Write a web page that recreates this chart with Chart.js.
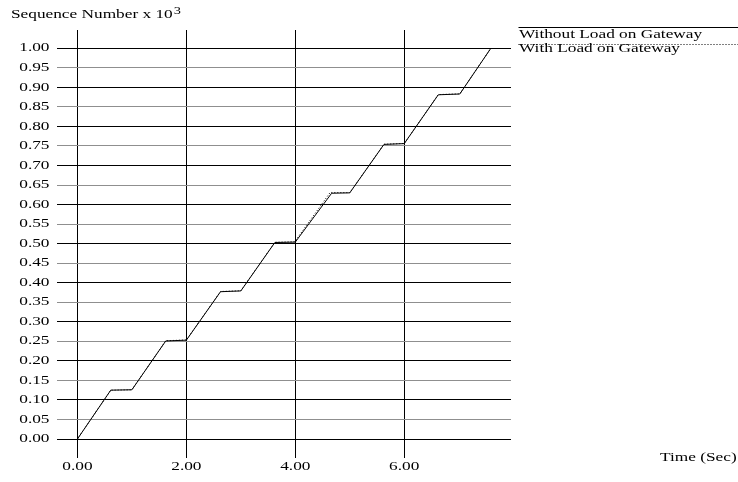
<!DOCTYPE html>
<html>
<head>
<meta charset="utf-8">
<script src="https://cdn.jsdelivr.net/npm/chart.js@4"></script>
<style>
  html, body { margin: 0; padding: 0; background: #fff; }
  #wrap { width: 738px; height: 482px; }
</style>
</head>
<body>
<div id="wrap"><canvas id="c" width="738" height="482"></canvas></div>
<script>
// Sequence number (x 10^3) against time, two runs
const timeNoLoad = [0, 0.612, 1.0, 1.622, 2.0, 2.627, 3.0, 3.625, 4.0, 4.667, 5.0, 5.628, 6.0, 6.625, 7.02, 7.59];
const seqNoLoad  = [0, 0.125, 0.126, 0.251, 0.253, 0.377, 0.379, 0.503, 0.504, 0.629, 0.630, 0.754, 0.756, 0.881, 0.883, 1.0];

const timeLoad = [0, 0.612, 1.0, 1.622, 2.0, 2.627, 3.0, 3.625, 3.99, 4.64, 5.0, 5.628, 6.0, 6.625, 7.02, 7.59];
const seqLoad  = [0, 0.125, 0.126, 0.2515, 0.2535, 0.3775, 0.3795, 0.5035, 0.505, 0.631, 0.6305, 0.7545, 0.7565, 0.8815, 0.8835, 1.0];

const seriesNames = ['Without Load on Gateway', 'With Load on Gateway'];

const xTicks = [0, 2, 4, 6];
const xTickLabels = ['0.00', '2.00', '4.00', '6.00'];
const yTicks = [0, 0.05, 0.10, 0.15, 0.20, 0.25, 0.30, 0.35, 0.40, 0.45, 0.50,
                0.55, 0.60, 0.65, 0.70, 0.75, 0.80, 0.85, 0.90, 0.95, 1.00];
const yTickLabels = ['0.00', '0.05', '0.10', '0.15', '0.20', '0.25', '0.30', '0.35', '0.40', '0.45', '0.50',
                     '0.55', '0.60', '0.65', '0.70', '0.75', '0.80', '0.85', '0.90', '0.95', '1.00'];

const yTitle = 'Sequence Number x 10';
const yTitleExp = '3';
const xTitle = 'Time (Sec)';

const FONT = '"Liberation Serif", "Times New Roman", serif';
const STRETCH = 1.44;

// Wide, horizontally stretched serif text
function stretchedText(ctx, text, x, y, align, baseline, size) {
  ctx.save();
  ctx.font = size + 'px ' + FONT;
  ctx.fillStyle = '#000';
  ctx.textAlign = 'left';
  ctx.textBaseline = baseline;
  const w = ctx.measureText(text).width * STRETCH;
  const x0 = align === 'right' ? x - w : (align === 'center' ? x - w / 2 : x);
  ctx.translate(x0, y);
  ctx.scale(STRETCH, 1);
  ctx.fillText(text, 0, 0);
  ctx.restore();
  return w;
}

const toPoints = (xs, ys) => xs.map((x, i) => ({ x: x, y: ys[i] }));

const textPlugin = {
  id: 'xgraphText',
  afterDraw(chart) {
    const ctx = chart.ctx;
    const xs = chart.scales.x, ys = chart.scales.y;

    yTicks.forEach((v, i) => {
      stretchedText(ctx, yTickLabels[i], 49.5, ys.getPixelForValue(v), 'right', 'middle', 12);
    });
    xTicks.forEach((v, i) => {
      stretchedText(ctx, xTickLabels[i], xs.getPixelForValue(v), 467, 'center', 'middle', 12);
    });

    const w = stretchedText(ctx, yTitle, 11, 17.5, 'left', 'alphabetic', 12);
    stretchedText(ctx, yTitleExp, 11 + w + 1, 14, 'left', 'alphabetic', 10);
    stretchedText(ctx, xTitle, 660, 461, 'left', 'alphabetic', 12);

    // legend: line sample above each name
    const legendX = 518.5, legendTop = [27.5, 44.5], legendBase = [38, 52];
    chart.data.datasets.forEach((ds, i) => {
      ctx.save();
      ctx.strokeStyle = '#000';
      ctx.lineWidth = 1;
      ctx.setLineDash(ds.borderDash || []);
      ctx.beginPath();
      ctx.moveTo(legendX, legendTop[i]);
      ctx.lineTo(738, legendTop[i]);
      ctx.stroke();
      ctx.restore();
      stretchedText(ctx, ds.label, 519, legendBase[i], 'left', 'alphabetic', 12);
    });
  }
};

new Chart(document.getElementById('c'), {
  type: 'line',
  data: {
    datasets: [
      {
        label: seriesNames[0],
        data: toPoints(timeNoLoad, seqNoLoad),
        borderColor: '#000',
        borderWidth: 1,
        pointRadius: 0,
        tension: 0,
        fill: false
      },
      {
        label: seriesNames[1],
        data: toPoints(timeLoad, seqLoad),
        borderColor: '#000',
        borderWidth: 1,
        borderDash: [1, 2],
        pointRadius: 0,
        tension: 0,
        fill: false
      }
    ]
  },
  options: {
    responsive: false,
    animation: false,
    events: [],
    layout: { padding: { left: 57, right: 227, top: 30, bottom: 24 } },
    plugins: { legend: { display: false }, tooltip: { enabled: false }, title: { display: false } },
    scales: {
      x: {
        type: 'linear',
        min: -0.375,
        max: 7.96,
        afterBuildTicks: (s) => { s.ticks = xTicks.map(v => ({ value: v })); },
        ticks: { display: false },
        grid: { color: '#000', lineWidth: 1, drawTicks: false },
        border: { display: false }
      },
      y: {
        type: 'linear',
        min: -0.0486,
        max: 1.0468,
        afterBuildTicks: (s) => { s.ticks = yTicks.map(v => ({ value: v })); },
        ticks: { display: false },
        grid: {
          lineWidth: 1,
          drawTicks: false,
          color: (c) => (Math.round(c.tick.value * 100) % 10 === 0 ? '#000' : '#8f8f8f')
        },
        border: { display: false }
      }
    }
  },
  plugins: [textPlugin]
});
</script>
</body>
</html>
